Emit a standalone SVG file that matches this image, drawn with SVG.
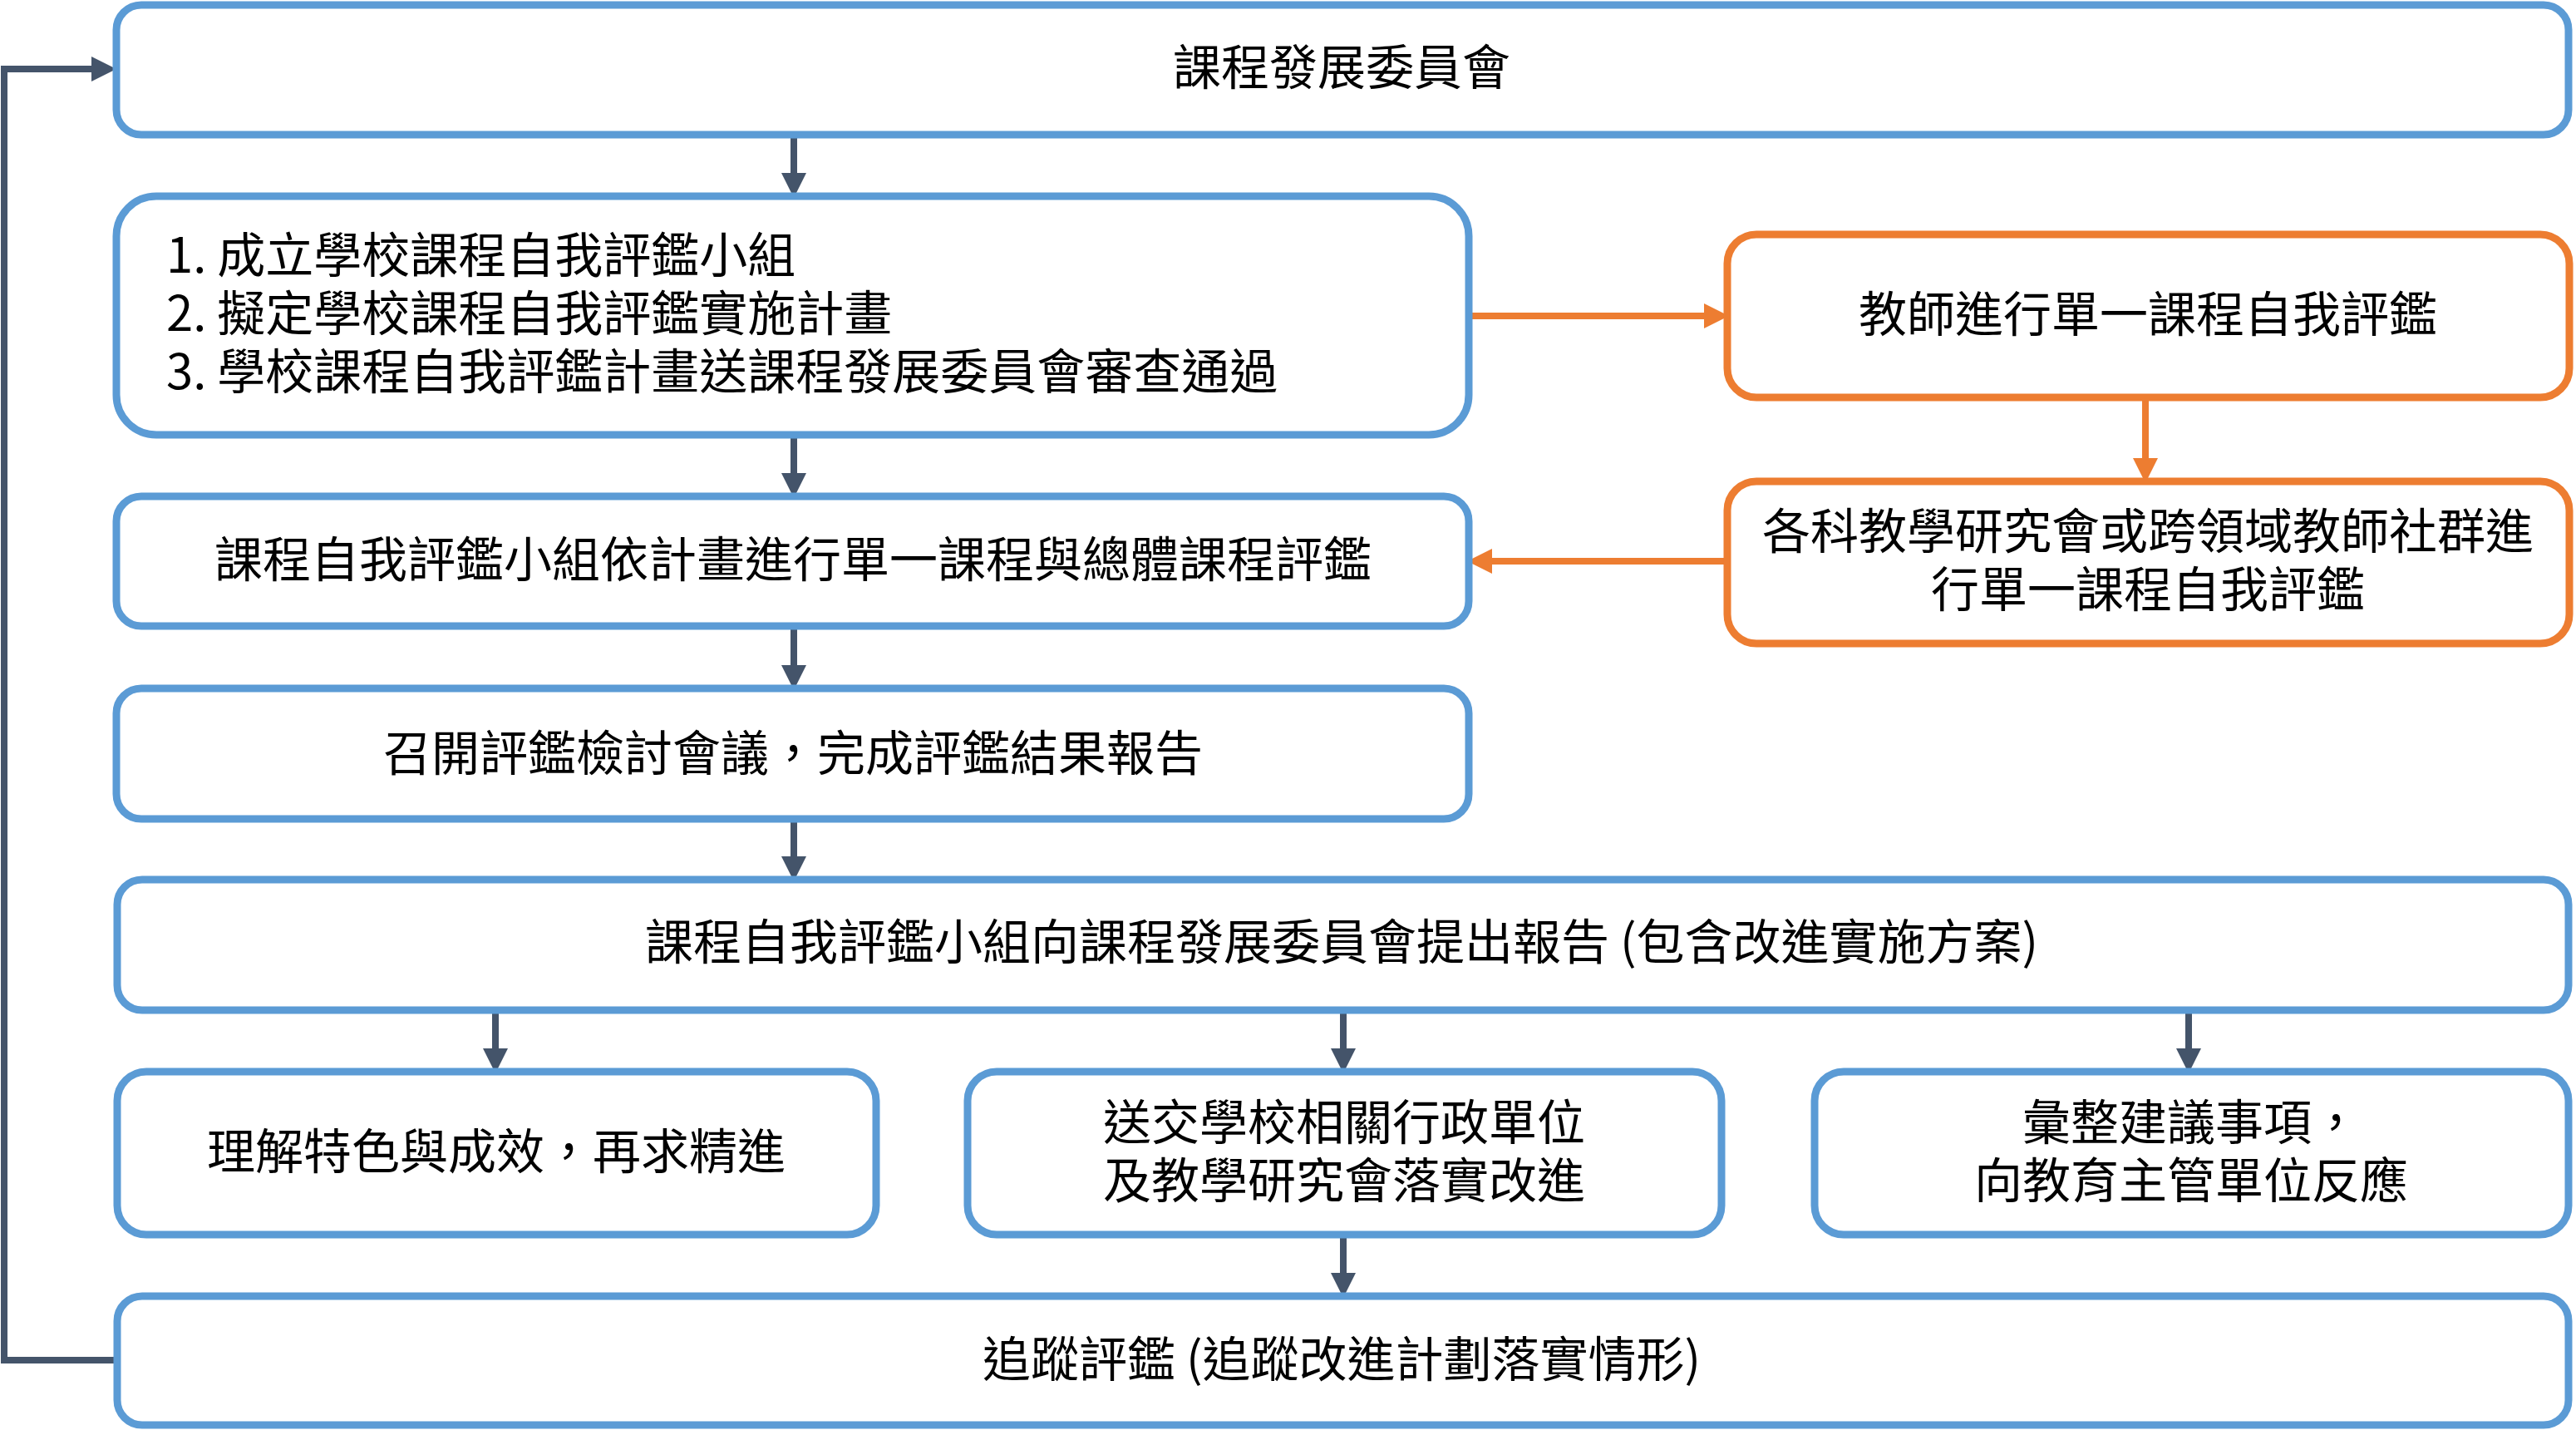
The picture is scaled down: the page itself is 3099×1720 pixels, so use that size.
<svg xmlns="http://www.w3.org/2000/svg" width="3099" height="1720" viewBox="0 0 3099 1720">
<style>
.b{fill:#fff;stroke:#5B9BD5;stroke-width:9}
.o{fill:#fff;stroke:#ED7D31;stroke-width:9}
.t{font-family:"Noto Sans CJK TC","Noto Sans CJK SC",sans-serif;font-size:58px;fill:#000;text-anchor:middle}
.l{text-anchor:start}
.cd{fill:none;stroke:#44546A;stroke-width:8}
.co{fill:none;stroke:#ED7D31;stroke-width:8}
</style>
<defs>
<marker id="ad" markerUnits="userSpaceOnUse" markerWidth="30" markerHeight="30" viewBox="0 0 28 28" refX="0" refY="14" orient="auto"><path d="M0,0 L28,14 L0,28 z" fill="#44546A"/></marker>
<marker id="ao" markerUnits="userSpaceOnUse" markerWidth="30" markerHeight="30" viewBox="0 0 28 28" refX="0" refY="14" orient="auto"><path d="M0,0 L28,14 L0,28 z" fill="#ED7D31"/></marker>
</defs>
<rect width="3099" height="1720" fill="#fff"/>
<g id="connectors">
<path class="cd" d="M955,162 V208" marker-end="url(#ad)"/>
<path class="cd" d="M955,523 V569" marker-end="url(#ad)"/>
<path class="cd" d="M955,753 V800" marker-end="url(#ad)"/>
<path class="cd" d="M955,985 V1030" marker-end="url(#ad)"/>
<path class="cd" d="M596,1215 V1261" marker-end="url(#ad)"/>
<path class="cd" d="M1616,1215 V1261" marker-end="url(#ad)"/>
<path class="cd" d="M2633,1215 V1261" marker-end="url(#ad)"/>
<path class="cd" d="M1616,1485 V1531" marker-end="url(#ad)"/>
<path class="cd" d="M141,1636 H5 V83 H110" marker-end="url(#ad)"/>
<path class="co" d="M1767,380 H2050" marker-end="url(#ao)"/>
<path class="co" d="M2581,478 V551" marker-end="url(#ao)"/>
<path class="co" d="M2078,675 H1795" marker-end="url(#ao)"/>
</g>
<g id="n1"><rect class="b" x="140" y="6" width="2950" height="156" rx="30"/><text class="t" x="1614" y="102">課程發展委員會</text></g>
<g id="n2"><rect class="b" x="140" y="236" width="1627" height="287" rx="48"/>
<text class="t l" x="200" y="328">1. 成立學校課程自我評鑑小組</text>
<text class="t l" x="200" y="398">2. 擬定學校課程自我評鑑實施計畫</text>
<text class="t l" x="200" y="468">3. 學校課程自我評鑑計畫送課程發展委員會審查通過</text></g>
<g id="n3"><rect class="b" x="140" y="597" width="1627" height="156" rx="30"/><text class="t" x="954" y="694">課程自我評鑑小組依計畫進行單一課程與總體課程評鑑</text></g>
<g id="n4"><rect class="b" x="140" y="828" width="1627" height="157" rx="30"/><text class="t" x="954" y="927">召開評鑑檢討會議，完成評鑑結果報告</text></g>
<g id="n5"><rect class="b" x="141" y="1058" width="2949" height="157" rx="30"/><text class="t" x="1614" y="1154">課程自我評鑑小組向課程發展委員會提出報告 (包含改進實施方案)</text></g>
<g id="n6"><rect class="b" x="141" y="1289" width="913" height="196" rx="35"/><text class="t" x="597" y="1406">理解特色與成效，再求精進</text></g>
<g id="n7"><rect class="b" x="1164" y="1289" width="907" height="196" rx="35"/><text class="t" x="1617" y="1371">送交學校相關行政單位</text><text class="t" x="1617" y="1441">及教學研究會落實改進</text></g>
<g id="n8"><rect class="b" x="2183" y="1289" width="907" height="196" rx="35"/><text class="t" x="2636" y="1371">彙整建議事項，</text><text class="t" x="2636" y="1441">向教育主管單位反應</text></g>
<g id="n9"><rect class="b" x="141" y="1559" width="2949" height="155" rx="30"/><text class="t" x="1614" y="1656">追蹤評鑑 (追蹤改進計劃落實情形)</text></g>
<g id="n10"><rect class="o" x="2078" y="282" width="1013" height="196" rx="35"/><text class="t" x="2584" y="399">教師進行單一課程自我評鑑</text></g>
<g id="n11"><rect class="o" x="2078" y="579" width="1013" height="195" rx="35"/><text class="t" x="2584" y="660">各科教學研究會或跨領域教師社群進</text><text class="t" x="2584" y="730">行單一課程自我評鑑</text></g>
</svg>
